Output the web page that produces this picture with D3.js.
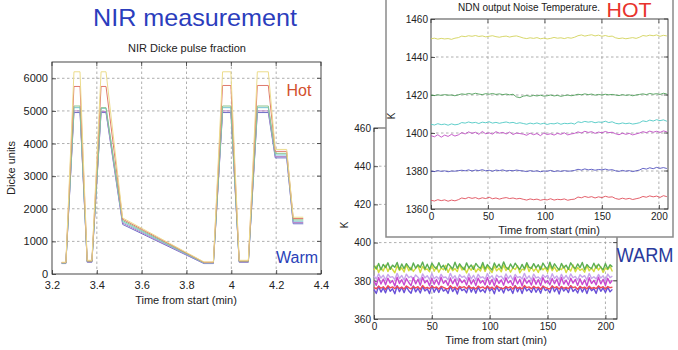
<!DOCTYPE html>
<html>
<head>
<meta charset="utf-8">
<script src="https://cdn.jsdelivr.net/npm/d3@7"></script>
<style>
  html, body { margin: 0; padding: 0; background: #fff; }
  svg { display: block; }
  text { font-family: "Liberation Sans", Arial, sans-serif; }
</style>
</head>
<body>
<svg id="chart" width="678" height="350"></svg>
<script>
// ---------- NIR Dicke pulse fraction (left panel) ----------
const nirTime = [3.243, 3.262, 3.298, 3.325, 3.357, 3.378, 3.419, 3.441, 3.515, 3.878, 3.92,
                 3.961, 3.998, 4.035, 4.076, 4.116, 4.165, 4.196, 4.247, 4.276, 4.321];
const nirYellow  = [360,360,6200,6200,420,420,6200,6200,1720,370,370,6200,6200,420,420,6200,6200,3820,3820,1740,1740];
const nirRed     = [350,350,5750,5750,400,400,5750,5750,1680,360,360,5780,5780,400,400,5780,5780,3760,3760,1700,1700];
const nirGreen   = [340,340,5150,5150,390,390,5100,5100,1640,350,350,5150,5150,390,390,5150,5150,3700,3700,1660,1660];
const nirCyan    = [340,340,5100,5100,380,380,5080,5080,1600,340,340,5100,5100,380,380,5100,5100,3650,3650,1620,1620];
const nirMagenta = [330,330,5000,5000,370,370,4980,4980,1560,330,330,5000,5000,370,370,5000,5000,3600,3600,1580,1580];
const nirBlue    = [320,320,4950,4950,360,360,4950,4950,1520,320,320,4950,4950,360,360,4950,4950,3560,3560,1540,1540];
const nirXTicks = [3.2, 3.4, 3.6, 3.8, 4, 4.2, 4.4];
const nirYTicks = [0, 1000, 2000, 3000, 4000, 5000, 6000];

// ---------- NDN output noise temperature, HOT load ----------
const hotTime = [0,3,6,9,12,15,18,21,24,27,30,33,36,39,42,45,48,51,54,57,60,63,66,69,72,75,78,81,84,87,
  90,93,96,99,102,105,108,111,114,117,120,123,126,129,132,135,138,141,144,147,150,153,156,159,162,165,
  168,171,174,177,180,183,186,189,192,195,198,201,204,207];
const hotYellow = [1449.6,1449.9,1449.4,1449.8,1449.5,1449.7,1449.3,1449.9,1450.2,
  1451.0,1450.7,1451.2,1450.9,1451.3,1450.8,1451.1,1450.6,1450.9,1451.2,1450.7,1450.4,1450.8,1451.0,1450.5,1450.9,1451.1,1450.6,
  1450.0,1449.7,1450.1,1449.8,1450.2,1449.6,1449.9,1449.5,1449.8,1450.3,1449.9,1450.1,1449.7,1450.2,1449.9,1450.4,
  1451.2,1451.6,1451.0,1451.4,1451.7,1451.1,1451.5,1450.9,1451.3,1450.8,1451.0,
  1450.1,1449.7,1450.0,1449.6,1449.9,1450.2,1449.8,1450.4,
  1451.3,1451.0,1451.5,1451.2,1451.6,1450.9,1451.4,1451.1];
const hotGreen = [1420.0,1419.7,1420.1,1419.8,1420.2,1419.9,1420.0,1419.6,1420.1,
  1420.6,1420.3,1420.8,1420.4,1420.9,1420.5,1420.2,1420.7,1420.4,1420.8,1420.3,1420.6,1420.2,1420.5,1420.1,1420.4,1419.0,1418.6,
  1419.4,1419.7,1419.3,1419.8,1419.5,1419.9,1419.4,1419.6,1420.0,1419.5,1419.8,1419.3,1419.7,1420.0,1419.6,1419.9,
  1420.4,1420.1,1420.6,1420.2,1420.5,1419.9,1420.3,1420.0,1420.4,1420.1,1420.3,
  1420.0,1419.7,1420.2,1419.8,1420.1,1419.6,1420.0,1420.3,
  1420.6,1420.2,1420.8,1420.4,1420.7,1420.3,1420.9,1420.5];
const hotCyan = [1404.6,1404.2,1404.9,1404.4,1404.7,1404.1,1404.8,1404.3,1404.6,
  1405.5,1405.2,1405.8,1405.3,1405.6,1405.0,1405.7,1405.4,1405.9,1405.2,1405.6,1405.1,1405.5,1405.8,1405.3,1405.6,1405.0,1405.4,
  1405.0,1404.6,1405.2,1404.8,1405.3,1404.7,1405.1,1404.5,1405.0,1404.8,1405.3,1404.6,1405.1,1404.9,1405.2,1404.7,
  1405.9,1405.5,1406.1,1405.7,1406.0,1405.4,1405.8,1405.6,1406.2,1405.5,1405.9,
  1405.1,1404.8,1405.3,1404.9,1405.2,1404.7,1405.0,1405.4,
  1406.4,1406.0,1406.8,1406.3,1407.0,1406.5,1406.9,1406.2];
const hotMagenta = [1398.6,1398.0,1399.1,1397.8,1398.9,1398.2,1399.3,1398.4,1399.0,
  1400.2,1399.5,1400.6,1399.8,1400.4,1399.3,1400.8,1399.6,1400.1,1399.4,1400.7,1399.9,1400.3,1399.5,1400.5,1399.2,1400.0,1399.7,
  1399.4,1398.8,1399.9,1399.1,1399.7,1398.6,1400.0,1399.2,1399.6,1398.9,1399.8,1399.3,1400.1,1399.0,1399.5,1399.8,
  1400.6,1400.0,1400.9,1400.3,1400.7,1399.8,1400.5,1400.1,1400.8,1400.2,1400.4,
  1399.6,1399.1,1399.9,1399.3,1399.8,1399.0,1399.5,1400.0,
  1400.7,1400.2,1401.0,1400.4,1400.9,1400.3,1401.1,1400.6];
const hotBlue = [1380.0,1379.7,1380.2,1379.8,1380.1,1379.6,1380.0,1379.9,1380.2,
  1380.4,1380.1,1380.6,1380.0,1380.5,1380.2,1380.7,1380.1,1380.4,1379.9,1380.5,1380.2,1380.6,1380.0,1380.3,1380.1,1380.5,1380.2,
  1380.0,1379.7,1380.2,1379.8,1380.1,1379.6,1380.0,1379.9,1380.3,1379.7,1380.1,1379.8,1380.2,1379.9,1380.0,1380.3,
  1380.9,1380.5,1381.1,1380.6,1380.9,1380.4,1380.8,1380.6,1381.0,1380.5,1380.7,
  1380.1,1379.8,1380.3,1379.9,1380.2,1379.7,1380.1,1380.5,
  1381.4,1381.0,1381.7,1381.2,1381.9,1381.4,1381.8,1381.3];
const hotRed = [1364.6,1364.2,1364.9,1364.4,1364.8,1364.1,1364.7,1364.3,1364.9,
  1365.8,1365.4,1366.1,1365.6,1366.0,1365.3,1365.9,1365.5,1366.2,1365.4,1365.8,1365.2,1365.7,1366.0,1365.5,1365.8,1365.3,1365.6,
  1365.1,1364.7,1365.3,1364.9,1365.2,1364.6,1365.0,1364.8,1365.4,1364.7,1365.1,1364.9,1365.3,1364.6,1365.0,1365.2,
  1366.3,1365.9,1366.6,1366.1,1366.5,1365.8,1366.4,1366.0,1366.7,1366.2,1366.4,
  1365.5,1365.1,1365.7,1365.2,1365.6,1365.0,1365.4,1365.8,
  1366.6,1366.2,1366.9,1366.4,1366.8,1366.1,1367.0,1366.5];
const hotXTicks = [0, 50, 100, 150, 200];
const hotYTicks = [1360, 1380, 1400, 1420, 1440, 1460];

// ---------- NDN output noise temperature, WARM load ----------
const warmTime = [0,2,4,6,8,10,12,14,16,18,20,22,24,26,28,30,32,34,36,38,40,42,44,46,48,50,52,54,56,58,
  60,62,64,66,68,70,72,74,76,78,80,82,84,86,88,90,92,94,96,98,100,102,104,106,108,110,112,114,116,118,
  120,122,124,126,128,130,132,134,136,138,140,142,144,146,148,150,152,154,156,158,160,162,164,166,168,
  170,172,174,176,178,180,182,184,186,188,190,192,194,196,198,200,202,204,206];
const warmYellow = [385.6,387.8,384.4,386.9,385.1,388.2,384.8,387.3,385.9,384.2,387.9,385.4,386.8,384.6,388.4,385.2,
  387.1,384.9,386.5,388.0,384.3,387.6,385.7,386.2,384.7,388.3,385.0,387.4,384.5,386.7,385.8,388.1,384.4,387.0,385.3,
  386.4,384.8,388.5,385.6,387.2,384.1,386.9,385.5,387.8,384.6,386.3,385.1,388.0,384.9,387.5,385.8,384.3,387.7,385.2,
  386.6,384.7,388.2,385.4,387.0,384.5,386.8,385.9,387.9,384.2,386.1,385.6,388.4,384.8,387.3,385.0,386.5,384.4,387.6,
  385.7,386.9,384.6,388.1,385.3,387.2,384.9,386.4,385.8,387.8,384.3,386.7,385.1,388.3,384.7,387.0,385.5,386.2,384.5,
  387.9,385.2,386.8,384.8,388.0,385.6,387.4,384.4,386.6,385.9,387.5,384.9];
const warmGreen = [387.9,386.2,389.1,385.8,388.6,386.9,389.4,386.0,388.2,387.1,389.6,385.9,388.8,386.4,389.0,387.3,
  385.7,389.3,386.6,388.4,387.0,389.8,386.1,388.7,385.9,389.2,387.4,386.3,389.5,386.8,388.1,385.6,389.0,387.6,386.2,
  389.7,386.5,388.9,387.2,385.8,389.4,386.7,388.3,386.0,389.1,387.5,386.4,389.6,386.1,388.5,387.0,385.7,389.3,386.9,
  388.7,386.3,389.9,387.1,386.0,388.8,386.6,389.2,387.4,385.9,388.6,386.2,389.5,387.0,386.5,389.0,386.8,388.4,385.8,
  389.3,387.3,386.1,389.7,386.4,388.9,387.2,385.6,389.1,386.7,388.2,386.0,389.4,387.5,386.3,388.8,386.9,389.6,385.9,
  388.5,387.1,386.4,389.2,386.6,388.7,387.0,385.8,389.0,386.2,388.4,387.3];
const warmCyan = [382.6,380.9,383.7,381.4,382.9,380.5,383.3,381.8,382.2,380.7,383.9,381.2,382.8,380.4,383.5,381.6,
  382.4,380.8,383.1,381.9,380.3,383.6,381.5,382.7,380.6,383.8,381.1,382.3,380.9,383.4,381.7,382.0,380.5,383.9,381.3,
  382.6,380.2,383.2,381.8,382.5,380.7,383.7,381.0,382.9,380.4,383.4,381.6,382.1,380.8,383.8,381.4,382.7,380.3,383.0,
  381.9,382.4,380.6,383.6,381.2,382.8,380.5,383.3,381.7,382.2,380.9,383.9,381.1,382.6,380.4,383.5,381.5,382.0,380.7,
  383.1,381.8,382.9,380.3,383.7,381.3,382.5,380.6,383.4,381.0,382.8,380.8,383.6,381.6,382.3,380.4,383.2,381.9,382.7,
  380.5,383.8,381.2,382.1,380.9,383.3,381.4,382.6,380.2,383.5,381.7,382.4];
const warmMagenta = [379.8,377.6,381.7,378.3,380.9,377.9,381.4,378.8,380.2,377.3,381.9,378.6,380.6,377.8,381.2,379.1,
  377.5,381.6,378.4,380.8,377.7,381.8,378.9,380.3,377.4,381.3,378.2,380.7,377.9,381.9,378.7,380.1,377.6,381.5,378.5,
  380.9,377.3,381.1,379.0,380.4,377.8,381.7,378.3,380.6,377.5,381.4,378.8,380.2,377.9,381.8,378.1,380.7,377.4,381.2,
  378.6,380.5,377.7,381.6,378.9,380.0,377.6,381.9,378.4,380.8,377.3,381.3,378.7,380.3,377.8,381.5,378.2,380.6,377.5,
  381.7,378.9,380.1,377.9,381.2,378.5,380.9,377.4,381.8,378.3,380.4,377.7,381.4,378.8,380.7,377.6,381.1,378.1,380.5,
  377.3,381.6,378.6,380.2,377.9,381.9,378.4,380.8,377.5,381.3,378.7,380.3];
const warmBlue = [375.4,373.4,377.2,374.1,376.3,373.7,377.0,374.5,375.8,373.2,377.4,374.3,376.6,373.8,376.9,374.8,
  373.5,377.3,374.2,376.1,373.6,377.1,374.7,375.9,373.3,377.5,374.0,376.4,373.9,376.8,374.6,375.6,373.4,377.2,374.4,
  376.2,373.1,377.0,374.9,375.7,373.7,377.4,374.1,376.5,373.5,376.7,374.3,375.5,373.8,377.3,374.6,376.0,373.2,377.1,
  374.5,376.3,373.6,376.9,374.8,375.9,373.4,377.5,374.2,376.6,373.3,377.0,374.7,375.8,373.9,376.8,374.0,376.2,373.5,
  377.2,374.9,375.6,373.7,377.3,374.3,376.4,373.1,376.9,374.6,376.1,373.8,377.4,374.4,375.7,373.6,377.0,374.1,376.5,
  373.3,376.8,374.8,375.9,373.4,377.1,374.5,376.3,373.9,376.7,374.2,375.5];
const warmRed = [376.6,375.8,377.2,376.1,376.9,375.6,377.4,376.3,376.8,375.9,377.1,376.0,376.7,375.7,377.3,376.4,
  375.8,377.0,376.2,376.9,375.6,377.5,376.1,376.6,375.9,377.2,376.3,376.8,375.7,377.1,376.5,376.0,375.8,377.4,376.2,
  376.7,375.6,377.0,376.4,376.9,375.9,377.3,376.1,376.6,375.7,377.2,376.3,376.8,375.8,377.1,376.0,376.7,375.6,377.4,
  376.5,376.2,375.9,377.0,376.3,376.9,375.7,377.3,376.1,376.6,375.8,377.5,376.4,376.8,375.9,377.1,376.2,376.7,375.6,
  377.2,376.5,376.0,375.8,377.3,376.3,376.9,375.7,377.0,376.1,376.6,375.9,377.4,376.4,376.8,375.6,377.1,376.2,376.7,
  375.8,377.2,376.0,376.5,375.9,377.3,376.3,376.9,375.7,377.0,376.4,376.6];
const warmXTicks = [0, 50, 100, 150, 200];
const warmYTicks = [360, 380, 400, 420, 440, 460];

// ---------- drawing helpers ----------
const svg = d3.select("#chart");
const FONT = '"Liberation Sans", Arial, sans-serif';

function pairs(times, values) {
  const n = Math.min(times.length, values.length);
  return values.slice(0, n).map((v, i) => [times[i], v]);
}

// Axes box, dashed grid and inward ticks in the style of a MATLAB plot
function drawAxes(g, x, y, xTicks, yTicks, opts) {
  const [x0, x1] = x.range();
  const [y0, y1] = y.range();   // y0 bottom, y1 top
  const grid = g.append("g").attr("stroke", "#9a9a9a").attr("stroke-width", 0.8)
    .attr("stroke-dasharray", "2.5,2.5");
  xTicks.filter(t => x(t) > x0 + 1 && x(t) < x1 - 1).forEach(t => {
    grid.append("line").attr("x1", x(t)).attr("x2", x(t)).attr("y1", y0).attr("y2", y1);
  });
  yTicks.filter(t => y(t) < y0 - 1 && y(t) > y1 + 1).forEach(t => {
    grid.append("line").attr("x1", x0).attr("x2", x1).attr("y1", y(t)).attr("y2", y(t));
  });

  const fs = opts.fontSize;
  const ax = d3.axisBottom(x).tickValues(xTicks).tickSize(-4).tickPadding(opts.xPad)
    .tickFormat(opts.xFormat || (d => String(d)));
  const gx = g.append("g").attr("transform", `translate(0,${y0})`).call(ax);
  const ay = d3.axisLeft(y).tickValues(yTicks).tickSize(-4).tickPadding(opts.yPad)
    .tickFormat(d => String(d));
  const gy = g.append("g").attr("transform", `translate(${x0},0)`).call(ay);
  [gx, gy].forEach(s => {
    s.select(".domain").remove();
    s.selectAll("line").attr("stroke", "#333").attr("stroke-width", 0.8);
    s.selectAll("text").attr("font-family", FONT).attr("font-size", fs).attr("fill", "#222");
  });
  // mirrored ticks on top and right edges
  const mt = g.append("g").attr("stroke", "#333").attr("stroke-width", 0.8);
  xTicks.forEach(t => mt.append("line").attr("x1", x(t)).attr("x2", x(t)).attr("y1", y1).attr("y2", y1 + 4));
  yTicks.forEach(t => mt.append("line").attr("x1", x1).attr("x2", x1 - 4).attr("y1", y(t)).attr("y2", y(t)));

  g.append("rect").attr("x", x0).attr("y", y1).attr("width", x1 - x0).attr("height", y0 - y1)
    .attr("fill", "none").attr("stroke", "#333").attr("stroke-width", 0.9);
}

function drawSeries(g, x, y, list, width) {
  const line = d3.line().x(d => x(d[0])).y(d => y(d[1]));
  list.forEach(s => {
    g.append("path").datum(pairs(s.t, s.v)).attr("d", line)
      .attr("fill", "none").attr("stroke", s.c).attr("stroke-width", width)
      .attr("stroke-linejoin", "round");
  });
}

// ---------- left panel ----------
svg.append("text").attr("x", 195).attr("y", 26).attr("text-anchor", "middle")
  .attr("font-family", '"DejaVu Sans", sans-serif').attr("font-size", 24)
  .attr("textLength", 204).attr("lengthAdjust", "spacingAndGlyphs")
  .attr("fill", "#2b3dbd").text("NIR measurement");

const xL = d3.scaleLinear().domain([3.2, 4.4]).range([52, 321]);
const yL = d3.scaleLinear().domain([0, 6500]).range([274, 62]);
const gL = svg.append("g");
drawAxes(gL, xL, yL, nirXTicks, nirYTicks, { fontSize: 11, xPad: 7, yPad: 4 });
drawSeries(gL, xL, yL, [
  { t: nirTime, v: nirBlue, c: "#7070c8" },
  { t: nirTime, v: nirMagenta, c: "#b884c8" },
  { t: nirTime, v: nirCyan, c: "#74c4d0" },
  { t: nirTime, v: nirGreen, c: "#8cc48c" },
  { t: nirTime, v: nirRed, c: "#e07a6c" },
  { t: nirTime, v: nirYellow, c: "#ecdc8c" }
], 1);
gL.append("text").attr("x", 187).attr("y", 52).attr("text-anchor", "middle")
  .attr("font-size", 11).attr("fill", "#222").text("NIR Dicke pulse fraction");
gL.append("text").attr("x", 186).attr("y", 304).attr("text-anchor", "middle")
  .attr("font-size", 11).attr("fill", "#222").text("Time from start (min)");
gL.append("text").attr("transform", "translate(15,168) rotate(-90)").attr("text-anchor", "middle")
  .attr("font-size", 11).attr("fill", "#222").text("Dicke units");
gL.append("text").attr("x", 299).attr("y", 96).attr("text-anchor", "middle")
  .attr("font-family", '"DejaVu Sans", sans-serif').attr("font-size", 16)
  .attr("fill", "#d2502e").text("Hot");
gL.append("text").attr("x", 297).attr("y", 263).attr("text-anchor", "middle")
  .attr("font-family", '"DejaVu Sans", sans-serif').attr("font-size", 16)
  .attr("fill", "#2a3fb8").text("Warm");

// ---------- WARM panel (behind) ----------
const xW = d3.scaleLinear().domain([0, 210]).range([374, 617]);
const yW = d3.scaleLinear().domain([360, 460]).range([319, 128]);
const gW = svg.append("g");
gW.append("rect").attr("x", 374).attr("y", 128).attr("width", 243).attr("height", 191).attr("fill", "#fff");
drawAxes(gW, xW, yW, warmXTicks, warmYTicks, { fontSize: 10, xPad: 4, yPad: 3 });
drawSeries(gW, xW, yW, [
  { t: warmTime, v: warmYellow, c: "#d4dc3c" },
  { t: warmTime, v: warmGreen, c: "#5cae52" },
  { t: warmTime, v: warmCyan, c: "#c8a4ec" },
  { t: warmTime, v: warmMagenta, c: "#c848d0" },
  { t: warmTime, v: warmBlue, c: "#6a50d8" },
  { t: warmTime, v: warmRed, c: "#ee4a5a" }
], 1.4);
gW.append("text").attr("x", 496).attr("y", 344).attr("text-anchor", "middle")
  .attr("font-size", 11).attr("fill", "#222").text("Time from start (min)");
gW.append("text").attr("transform", "translate(348,225) rotate(-90)").attr("text-anchor", "middle")
  .attr("font-size", 10).attr("fill", "#222").text("K");
gW.append("text").attr("x", 645).attr("y", 262).attr("text-anchor", "middle")
  .attr("font-family", '"DejaVu Sans", sans-serif').attr("font-size", 20)
  .attr("textLength", 57).attr("lengthAdjust", "spacingAndGlyphs")
  .attr("fill", "#2a3a9c").text("WARM");

// ---------- HOT panel (inset window on top) ----------
svg.append("rect").attr("x", 386).attr("y", -2).attr("width", 287).attr("height", 239)
  .attr("fill", "#fff").attr("stroke", "#8a8a8a").attr("stroke-width", 1.5);
const xH = d3.scaleLinear().domain([0, 208]).range([431, 668]);
const yH = d3.scaleLinear().domain([1360, 1460]).range([209, 19]);
const gH = svg.append("g");
drawAxes(gH, xH, yH, hotXTicks, hotYTicks, { fontSize: 10, xPad: 4, yPad: 3 });
drawSeries(gH, xH, yH, [
  { t: hotTime, v: hotYellow, c: "#d2d25a" },
  { t: hotTime, v: hotGreen, c: "#4e9e58" },
  { t: hotTime, v: hotCyan, c: "#4ec8c4" },
  { t: hotTime, v: hotMagenta, c: "#c04cc4" },
  { t: hotTime, v: hotBlue, c: "#5454c0" },
  { t: hotTime, v: hotRed, c: "#e04e5a" }
], 0.9);
gH.append("text").attr("x", 529).attr("y", 11).attr("text-anchor", "middle")
  .attr("font-size", 10).attr("fill", "#222").text("NDN output Noise Temperature.");
gH.append("text").attr("x", 629).attr("y", 17).attr("text-anchor", "middle")
  .attr("font-family", '"DejaVu Sans", sans-serif').attr("font-size", 20)
  .attr("textLength", 45).attr("lengthAdjust", "spacingAndGlyphs")
  .attr("fill", "#e8322c").text("HOT");
gH.append("text").attr("x", 549).attr("y", 234).attr("text-anchor", "middle")
  .attr("font-size", 11).attr("fill", "#222").text("Time from start (min)");
gH.append("text").attr("transform", "translate(395,116) rotate(-90)").attr("text-anchor", "middle")
  .attr("font-size", 10).attr("fill", "#222").text("K");
</script>
</body>
</html>
